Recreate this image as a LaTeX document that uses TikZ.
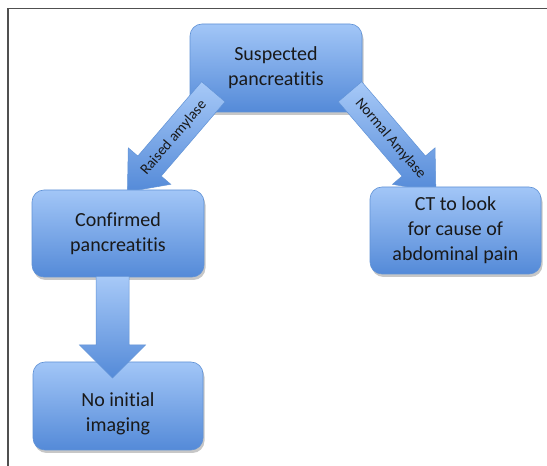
\documentclass[tikz,border=0pt]{standalone}
\usepackage{fontspec}
\setmainfont[Ligatures=NoCommon]{Carlito}
\usetikzlibrary{calc,shadows}
\definecolor{boxtop}{RGB}{162,198,247}
\definecolor{boxbot}{RGB}{84,138,216}
\definecolor{boxedge}{RGB}{96,146,214}
\definecolor{framegray}{RGB}{80,80,80}
\newcommand\blockarr[5]{% start, end, shaft half width, head half width, head length
  \coordinate (hb) at ($(#2)!#5!(#1)$);
  \path[arrowfill] ($(#1)!#3!90:(#2)$) -- ($(hb)!#3!90:(#2)$) -- ($(hb)!#4!90:(#2)$) -- (#2)
    -- ($(hb)!#4!-90:(#2)$) -- ($(hb)!#3!-90:(#2)$) -- ($(#1)!#3!-90:(#2)$) -- cycle;
}
\begin{document}
\begin{tikzpicture}[x=1pt,y=1pt,
  flowbox/.style={rectangle, rounded corners=12pt, draw=boxedge, line width=0.6pt,
    top color=boxtop, bottom color=boxbot, align=center, font=\fontsize{20}{25}\selectfont,
    text=black!90, inner sep=0pt,
    drop shadow={shadow xshift=1.5pt, shadow yshift=-3pt, opacity=0.22, fill=black}},
  arrowfill/.style={draw=boxedge, line width=0.5pt, top color=boxtop!95!white, bottom color=boxbot,
    line join=miter},
  arrlabel/.style={font=\fontsize{15}{18}\selectfont, text=black!90, sloped, inner sep=0pt}]
\useasboundingbox (0,0) rectangle (547,466);
\fill[white] (0,0) rectangle (547,466);
\draw[framegray, line width=1.5pt] (8,0) -- (8,457.5) -- (547,457.5);

\node[flowbox, minimum width=172pt, minimum height=88pt] (sus) at (276,398) {Suspected\\pancreatitis};

\coordinate (la) at (213.3,374.3);
\coordinate (lb) at (127.4,274.1);
\coordinate (ra) at (350.0,374.3);
\coordinate (rb) at (435.9,274.1);
\blockarr{la}{lb}{15.4pt}{28pt}{34pt}
\blockarr{ra}{rb}{15.4pt}{28pt}{34pt}
\path (la) -- (lb) node[arrlabel, pos=0.46] {Raised amylase};
\path (ra) -- (rb) node[arrlabel, pos=0.47] {Normal Amylase};

\node[flowbox, minimum width=172pt, minimum height=87pt] (conf) at (118,232.5) {Confirmed\\pancreatitis};
\node[flowbox, minimum width=171pt, minimum height=87pt] (ct) at (455.5,235.5) {CT to look\\for cause of\\abdominal pain};
\node[flowbox, minimum width=170pt, minimum height=88pt] (noimg) at (118,60) {};
\node[align=center, font=\fontsize{20}{25}\selectfont, text=black!90, inner sep=0pt] (noimgtxt) at (118,52) {No initial\\imaging};

\coordinate (da) at (112.5,189.5);
\coordinate (db) at (112.5,88);
\blockarr{da}{db}{16.5pt}{33pt}{33pt}
\end{tikzpicture}
\end{document}
